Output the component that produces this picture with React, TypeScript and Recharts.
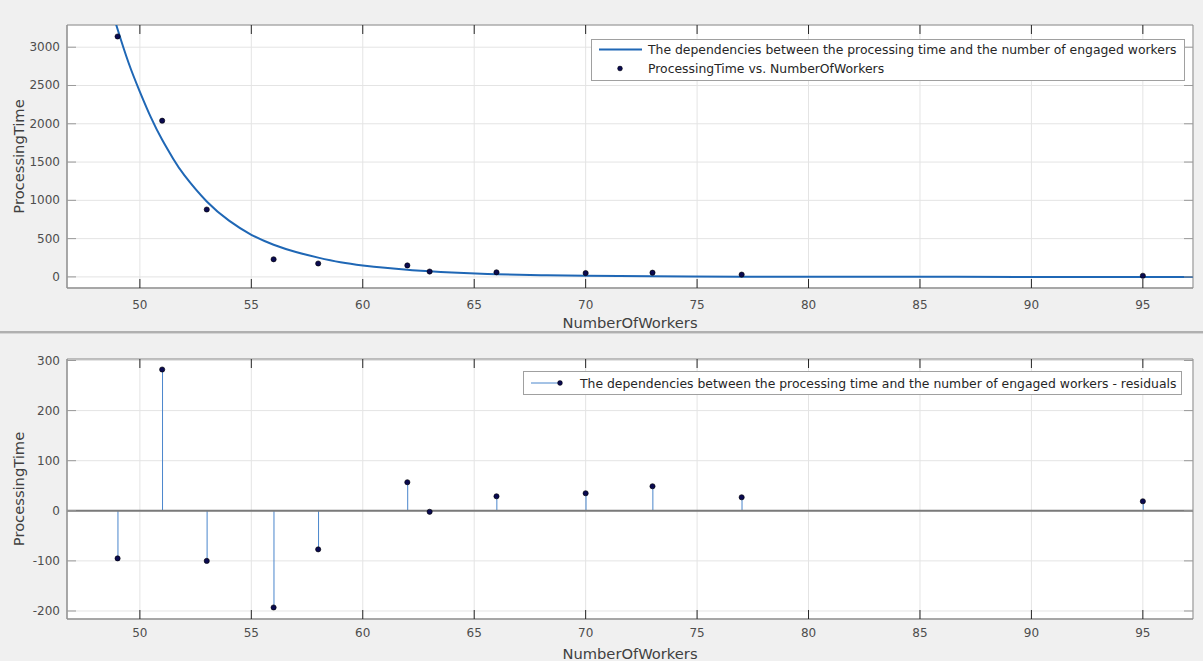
import React from "react";
import { ComposedChart, Line, Scatter, Bar, XAxis, YAxis, CartesianGrid, ReferenceLine, ReferenceArea, Legend } from "recharts";

const workers = [49, 51, 53, 56, 58, 62, 63, 66, 70, 73, 77, 95];
const processingTime = [3140, 2040, 880, 230, 175, 150, 70, 60, 50, 55, 30, 15];
const residuals = [-95, 282, -100, -193, -77, 57, -2, 29, 35, 49, 27, 19];

// fitted curve
const fitX = [48.8, 49, 49.5, 50, 50.5, 51, 51.5, 52, 53, 54, 55, 56, 57, 58, 59, 60, 61, 62, 63, 64, 66, 68, 70, 73, 77, 80, 85, 90, 97.3];
const fitY = [3430, 3235, 2790, 2418, 2080, 1790, 1540, 1325, 985, 735, 550, 420, 325, 252, 192, 150, 118, 93, 73, 57, 35, 22, 14, 7, 3, 2, 1, 0, 0];

const xTicks = [50, 55, 60, 65, 70, 75, 80, 85, 90, 95];
const topYTicks = [0, 500, 1000, 1500, 2000, 2500, 3000];
const bottomYTicks = [-200, -100, 0, 100, 200, 300];

const fitLabel = "The dependencies between the processing time and the number of engaged workers";
const pointsLabel = "ProcessingTime vs. NumberOfWorkers";
const residualLabel = "The dependencies between the processing time and the number of engaged workers - residuals";

const xDomain = [46.73, 97.25];
const topYDomain = [-145, 3290];
const bottomYDomain = [-216, 303];
const font = "DejaVu Sans, sans-serif";
const curveColor = "#1f67b5";
const stemColor = "#4a86cc";
const dotColor = "#0a0a50";
const boxColor = "#8f8f8f";

const plotW = 1126;

const fitRows = fitX.map((x, i) => ({ x, y: fitY[i] }));
const pointRows = workers.map((x, i) => ({ x, y: processingTime[i] }));
const residualRows = workers.map((x, i) => ({ x, r: residuals[i] }));

// x tick: mark at the bottom and mirrored at the top edge of the plot
function XTick(props: any) {
    const { x, y, payload, gap, plotH } = props;
    return (
        <g>
            <line x1={x} x2={x} y1={y} y2={y - 9} stroke="#262626" />
            <line x1={x} x2={x} y1={y - plotH} y2={y - plotH + 9} stroke="#262626" />
            <text x={x} y={y + gap} textAnchor="middle" dominantBaseline="central" fontSize={12} fill="#4d4d4d" fontFamily={font}>
                {payload.value}
            </text>
        </g>
    );
}

// y tick: mark on the left and mirrored on the right edge
function YTick(props: any) {
    const { x, y, payload } = props;
    return (
        <g>
            <line x1={x} x2={x + 9} y1={y} y2={y} stroke="#9a9a9a" />
            <line x1={x + plotW} x2={x + plotW - 9} y1={y} y2={y} stroke="#9a9a9a" />
            <text x={x - 7} y={y} textAnchor="end" dominantBaseline="central" fontSize={12} fill="#4d4d4d" fontFamily={font}>
                {payload.value}
            </text>
        </g>
    );
}

function YLabel(props: any) {
    const vb = props.viewBox || { x: 7, y: 0, width: 60, height: 300 };
    const cx = vb.x + 11;
    const cy = vb.y + vb.height / 2;
    return (
        <text x={cx} y={cy} transform={`rotate(-90, ${cx}, ${cy})`} textAnchor="middle" dominantBaseline="central"
              fontSize={14.7} fill="#404040" fontFamily={font}>
            {props.text}
        </text>
    );
}

const legendBox: React.CSSProperties = {
    background: "#fff",
    border: "1px solid #a0a0a0",
    boxSizing: "border-box",
    fontFamily: font,
    fontSize: 12.4,
    color: "#262626",
    whiteSpace: "nowrap",
};

function TopLegend() {
    return (
        <div style={{ ...legendBox, width: 594, height: 42, paddingLeft: 7 }}>
            <div style={{ display: "flex", alignItems: "center", height: 19 }}>
                <svg width={43} height={19}>
                    <line x1={0} x2={43} y1={9.5} y2={9.5} stroke={curveColor} strokeWidth={2} />
                </svg>
                <span style={{ marginLeft: 6 }}>{fitLabel}</span>
            </div>
            <div style={{ display: "flex", alignItems: "center", height: 19 }}>
                <svg width={43} height={19}>
                    <circle cx={21} cy={9.5} r={2.4} fill={dotColor} stroke="#000" strokeWidth={0.5} />
                </svg>
                <span style={{ marginLeft: 6 }}>{pointsLabel}</span>
            </div>
        </div>
    );
}

function BottomLegend() {
    return (
        <div style={{ ...legendBox, width: 659, height: 24, paddingLeft: 7, display: "flex", alignItems: "center" }}>
            <svg width={32} height={22}>
                <line x1={0} x2={29} y1={11} y2={11} stroke={stemColor} strokeWidth={1} />
                <circle cx={29} cy={11} r={2.4} fill={dotColor} stroke="#000" strokeWidth={0.5} />
            </svg>
            <span style={{ marginLeft: 17 }}>{residualLabel}</span>
        </div>
    );
}

const Dot = (props: any) => {
    const { cx, cy } = props;
    if (cx == null || cy == null) return null;
    return <circle cx={cx} cy={cy} r={2.6} fill={dotColor} stroke="#000" strokeWidth={0.6} />;
};

export default function App() {
    return (
        <div style={{ position: "absolute", left: 0, top: 0, width: 1203, height: 661, background: "#f0f0f0", overflow: "hidden" }}>
            <div style={{ position: "absolute", left: 0, top: 0 }}>
                <ComposedChart width={1203} height={333} margin={{ top: 25, right: 10, bottom: 0, left: 7 }}>
                    <CartesianGrid stroke="#e4e4e4" fill="#fff" fillOpacity={1} />
                    <XAxis dataKey="x" type="number" domain={xDomain} allowDataOverflow ticks={xTicks} interval={0}
                           height={45} tickSize={0} tickMargin={0} axisLine={{ stroke: boxColor }} tickLine={false}
                           tick={<XTick gap={17} plotH={263} />}
                           label={{ value: "NumberOfWorkers", position: "insideBottom", offset: 5, fill: "#404040", fontSize: 14.7, fontFamily: font }} />
                    <YAxis type="number" domain={topYDomain} allowDataOverflow ticks={topYTicks} interval={0} width={60}
                           tickSize={0} tickMargin={0} axisLine={{ stroke: boxColor }} tickLine={false} tick={<YTick />}
                           label={<YLabel text="ProcessingTime" />} />
                    <ReferenceArea x1={xDomain[0]} x2={xDomain[1]} y1={topYDomain[0]} y2={topYDomain[1]}
                                   fill="none" stroke={boxColor} strokeWidth={1} ifOverflow="visible" />
                    <Line data={fitRows} dataKey="y" type="natural" stroke={curveColor} strokeWidth={2} dot={false}
                          isAnimationActive={false} />
                    <Scatter data={pointRows} dataKey="y" shape={<Dot />} isAnimationActive={false} />
                    <Legend content={<TopLegend />} layout="horizontal" verticalAlign="middle" align="center"
                            wrapperStyle={{ left: 591, top: 39, width: "auto" }} />
                </ComposedChart>
            </div>
            <div style={{ position: "absolute", left: 0, top: 331, width: 1203, height: 2, background: "#b0b0b0" }} />
            <div style={{ position: "absolute", left: 0, top: 333, width: 1203, height: 1, background: "#d4d4d4" }} />
            <div style={{ position: "absolute", left: 0, top: 333 }}>
                <ComposedChart width={1203} height={328} data={residualRows} margin={{ top: 26, right: 10, bottom: 0, left: 7 }}>
                    <CartesianGrid stroke="#e4e4e4" fill="#fff" fillOpacity={1} />
                    <XAxis dataKey="x" type="number" domain={xDomain} allowDataOverflow ticks={xTicks} interval={0}
                           height={42} tickSize={0} tickMargin={0} axisLine={{ stroke: boxColor }} tickLine={false}
                           tick={<XTick gap={14} plotH={260} />}
                           label={{ value: "NumberOfWorkers", position: "insideBottom", offset: 2, fill: "#404040", fontSize: 14.7, fontFamily: font }} />
                    <YAxis type="number" domain={bottomYDomain} allowDataOverflow ticks={bottomYTicks} interval={0} width={60}
                           tickSize={0} tickMargin={0} axisLine={{ stroke: boxColor }} tickLine={false} tick={<YTick />}
                           label={<YLabel text="ProcessingTime" />} />
                    <ReferenceArea x1={xDomain[0]} x2={xDomain[1]} y1={bottomYDomain[0]} y2={bottomYDomain[1]}
                                   fill="none" stroke={boxColor} strokeWidth={1} ifOverflow="visible" />
                    <ReferenceLine y={0} stroke="#7a7a7a" strokeWidth={2} />
                    <Bar dataKey="r" barSize={1} fill={stemColor} isAnimationActive={false} />
                    <Scatter dataKey="r" shape={<Dot />} isAnimationActive={false} />
                    <Legend content={<BottomLegend />} layout="horizontal" verticalAlign="middle" align="center"
                            wrapperStyle={{ left: 523, top: 38, width: "auto" }} />
                </ComposedChart>
            </div>
        </div>
    );
}
